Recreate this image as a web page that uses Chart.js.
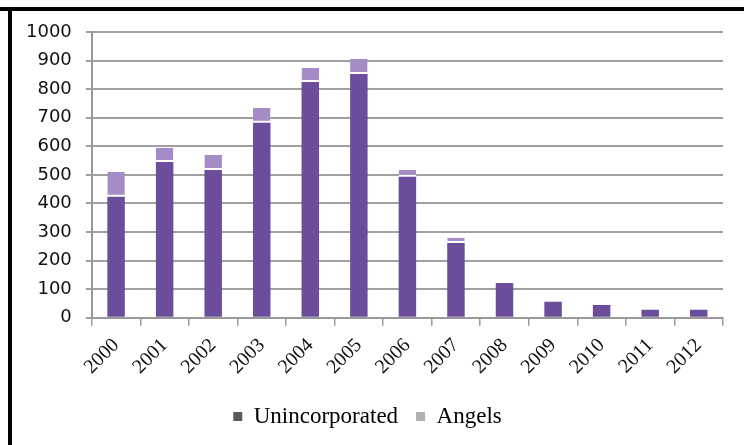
<!DOCTYPE html>
<html>
<head>
<meta charset="utf-8">
<script src="https://cdn.jsdelivr.net/npm/chart.js@4"></script>
<style>
  html, body { margin: 0; padding: 0; background: #fff; }
  #wrap { position: relative; width: 744px; height: 445px; overflow: hidden; }
  #frameTop { position: absolute; left: 0; top: 7px; width: 744px; height: 4px; background: #000; }
  #frameLeft { position: absolute; left: 8px; top: 7px; width: 4px; height: 438px; background: #000; }
  canvas { position: absolute; left: 0; top: 0; }
</style>
</head>
<body>
<div id="wrap">
  <canvas id="chart" width="744" height="445"></canvas>
  <div id="frameTop"></div>
  <div id="frameLeft"></div>
</div>
<script>
const YEARS = ['2000', '2001', '2002', '2003', '2004', '2005', '2006', '2007', '2008', '2009', '2010', '2011', '2012'];
const UNINCORPORATED = [423, 545, 517, 682, 825, 853, 493, 262, 122, 56, 45, 28, 28];
const ANGELS = [87, 50, 53, 52, 49, 53, 24, 18, 0, 0, 0, 0, 0];
const Y_TICKS = [0, 100, 200, 300, 400, 500, 600, 700, 800, 900, 1000];

const BAR_DARK = '#6b4d9b';
const BAR_LIGHT = '#a58cc6';
const LEGEND_COLORS = ['#5a5a5a', '#b0b0b0'];

const ctx = document.getElementById('chart').getContext('2d');
new Chart(ctx, {
  type: 'bar',
  data: {
    labels: YEARS,
    datasets: [
      { label: 'Unincorporated', data: UNINCORPORATED, backgroundColor: BAR_DARK, borderWidth: 0 },
      { label: 'Angels', data: ANGELS, backgroundColor: BAR_LIGHT, borderColor: '#ffffff',
        borderWidth: { top: 0, left: 0, right: 0, bottom: 2 }, borderSkipped: false },
    ],
  },
  options: {
    responsive: false,
    animation: false,
    datasets: { bar: { barPercentage: 0.36, categoryPercentage: 1 } },
    layout: { padding: { left: 12, right: 21, top: 32, bottom: 7 } },
    plugins: {
      tooltip: { enabled: false },
      legend: {
        position: 'bottom',
        labels: {
          font: { family: 'Liberation Serif', size: 23 },
          color: '#222',
          boxWidth: 9, boxHeight: 9, padding: 18,
          generateLabels: chart => chart.data.datasets.map((ds, i) => ({
            text: ds.label, fillStyle: LEGEND_COLORS[i], strokeStyle: LEGEND_COLORS[i],
            lineWidth: 0, datasetIndex: i, hidden: false,
          })),
        },
      },
    },
    scales: {
      x: {
        stacked: true,
        offset: true,
        border: { color: '#999', width: 2 },
        grid: { offset: true, drawOnChartArea: false, color: '#999', lineWidth: 1.5, tickLength: 8 },
        ticks: {
          maxRotation: 45, minRotation: 45, padding: 8,
          font: { family: 'Liberation Serif', size: 20 }, color: '#111',
        },
      },
      y: {
        stacked: true,
        min: 0, max: 1000,
        afterBuildTicks: axis => { axis.ticks = Y_TICKS.map(v => ({ value: v })); },
        border: { color: '#999', width: 2 },
        grid: { color: '#a0a0a0', lineWidth: 2, tickLength: 6 },
        ticks: {
          padding: 14,
          callback: v => String(v),
          font: { family: 'DejaVu Sans', size: 18 }, color: '#111',
        },
      },
    },
  },
});
</script>
</body>
</html>
